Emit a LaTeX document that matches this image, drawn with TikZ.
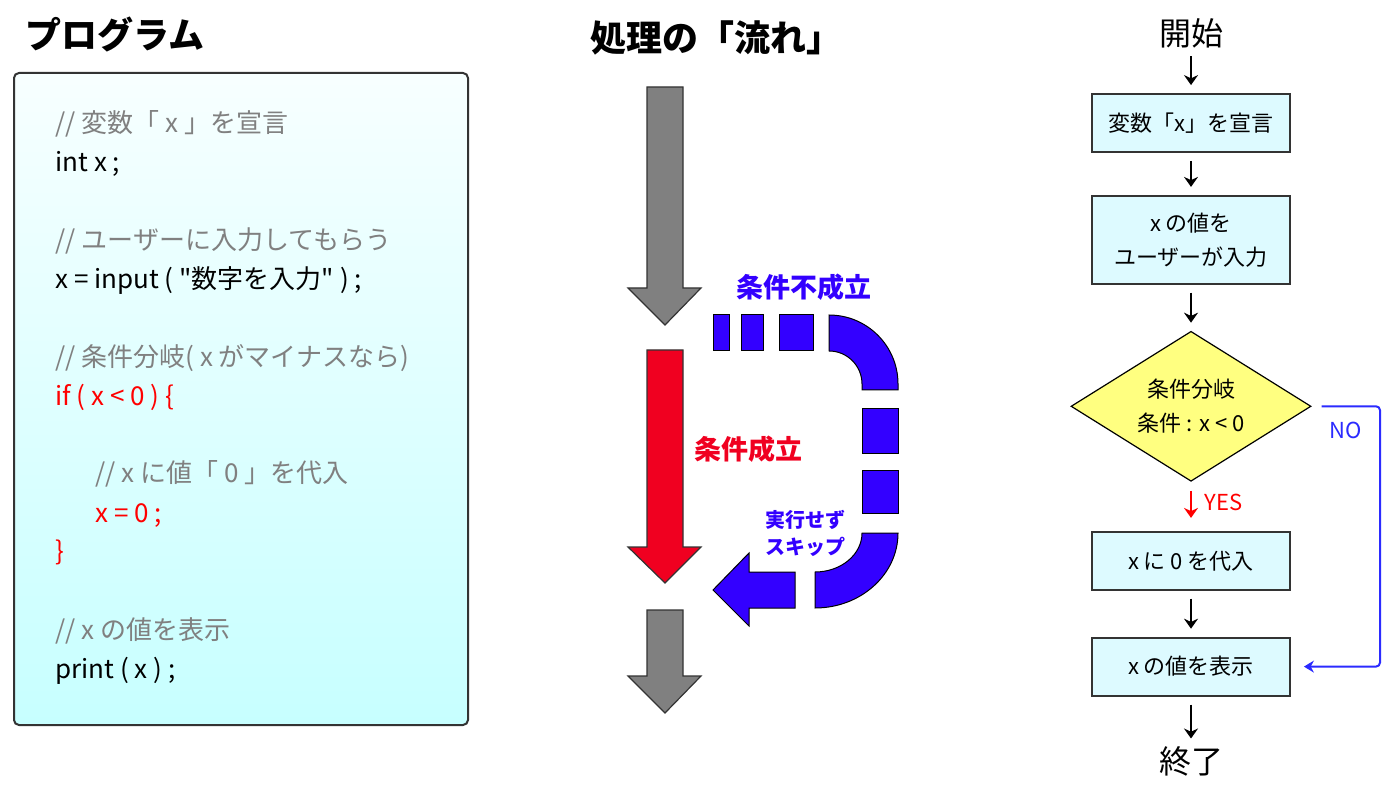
\documentclass[tikz,border=0pt]{standalone}
\usepackage{fontspec}
\setmainfont{Noto Sans CJK JP}[Ligatures=TeXOff]
\usepackage{tikz}
\usetikzlibrary{positioning,shapes.geometric,arrows.meta}
\definecolor{CodeGray}{HTML}{808080}
\definecolor{CodeRed}{HTML}{FF0000}
\definecolor{FlowRed}{HTML}{F00020}
\definecolor{FlowBlue}{HTML}{3300FF}
\definecolor{NoBlue}{HTML}{2B2BFF}
\definecolor{ArrowGray}{HTML}{808080}
\definecolor{BoxCyan}{HTML}{DDFAFF}
\definecolor{CondYellow}{HTML}{FFFF80}
% thick down arrow: colour, top, head base, tip
\newcommand{\fatdown}[4]{%
  \draw[fat, fill=#1] (647,#2) -- (683,#2) -- (683,#3) -- (701,#3) -- (665,#4)
    -- (628,#3) -- (647,#3) -- cycle;}

\begin{document}
\begin{tikzpicture}[x=0.5pt, y=-0.5pt,
                    heading/.style={font=\fontsize{18}{20}\selectfont\bfseries, inner sep=0},
                    cmt/.style={anchor=west, inner sep=0, text height=11.4pt, text depth=1.6pt,
                                font=\fontsize{13}{15}\selectfont, text=CodeGray},
                    src/.style={cmt, text=black},
                    hot/.style={cmt, text=CodeRed},
                    fat/.style={draw=black!80, line width=0.6pt},
                    skipseg/.style={fill=FlowBlue, draw=black, line width=0.5pt},
                    term/.style={font=\fontsize{16}{18}\selectfont, inner sep=0},
                    proc/.style={draw=black!80, line width=0.9pt, fill=BoxCyan, align=center,
                                 minimum width=99pt, minimum height=29pt,
                                 font=\fontsize{11}{17}\selectfont},
                    cond/.style={diamond, draw=black, line width=0.6pt, fill=CondYellow,
                                 minimum width=120pt, minimum height=75pt, inner sep=0,
                                 aspect=1.6, align=center, font=\fontsize{11}{17}\selectfont},
                    flow/.style={-{Stealth[length=5pt,width=7pt]}, line width=1pt,
                                 shorten <=4pt, shorten >=4pt},
                    noline/.style={-{Stealth[length=5pt,width=6pt]}, draw=NoBlue, line width=1pt,
                                   rounded corners=2pt, shorten <=5pt, shorten >=6.5pt}]
\useasboundingbox (0,0) rectangle (1400,790);

% program
\node[heading] (progtitle) at (115,35) {プログラム};
\draw[draw=black!80, line width=1pt, rounded corners=2.5pt, top color=cyan!3, bottom color=cyan!22]
  (14,73) rectangle (468,725);
\node[cmt] (l1) at (55,123) {// 変数「 x 」を宣言};
\node[src] (l2) at (55,162) {int x ;};
\node[cmt] (l3) at (55,240) {// ユーザーに入力してもらう};
\node[src] (l4) at (55,279) {x = input ( "数字を入力" ) ;};
\node[cmt] (l5) at (55,357) {// 条件分岐( x がマイナスなら)};
\node[hot] (l6) at (55,396) {if ( x < 0 ) \{};
\node[cmt] (l7) at (95,473) {// x に値「 0 」を代入};
\node[hot] (l8) at (95,513) {x = 0 ;};
\node[hot] (l9) at (55,551) {\}};
\node[cmt] (l10) at (55,630) {// x の値を表示};
\node[src] (l11) at (55,669) {print ( x ) ;};

% flow
\node[heading] (flowtitle) at (716,38) {処理の「流れ」};
\fatdown{ArrowGray}{87}{288}{325}
\fatdown{FlowRed}{350}{547}{583}
\fatdown{ArrowGray}{610}{676}{713}
\draw[skipseg] (713,315) rectangle (729,351);
\draw[skipseg] (741,315) rectangle (763,351);
\draw[skipseg] (779,315) rectangle (813,351);
\draw[skipseg] (829,315) arc[start angle=-90, end angle=0, radius=69] -- (898,390) -- (862,390)
  -- (862,384) arc[start angle=0, end angle=-90, radius=33] -- cycle;
\draw[skipseg] (862,408) rectangle (898,453);
\draw[skipseg] (862,470) rectangle (898,513);
\draw[skipseg] (862,533) -- (898,533) arc[start angle=0, end angle=90, x radius=83, y radius=75]
  -- (815,572) arc[start angle=90, end angle=0, x radius=47, y radius=39] -- cycle;
\draw[skipseg] (795,572) -- (749,572) -- (749,553) -- (713,590) -- (749,626) -- (749,608)
  -- (795,608) -- cycle;
\node[font=\fontsize{13.5}{15}\selectfont\bfseries, text=FlowBlue] (ng) at (804,287) {条件不成立};
\node[font=\fontsize{13.5}{15}\selectfont\bfseries, text=FlowRed] (ok) at (748,449) {条件成立};
\node[font=\fontsize{10}{13.5}\selectfont\bfseries, text=FlowBlue, align=center] (skiptxt)
  at (805,533) {実行せず\\スキップ};

% chart
\node[proc] (decl) at (1191,123) {変数「x」を宣言};
\node[term, above=22.5pt of decl] (start) {開始};
\node[proc, minimum height=44pt, below=21pt of decl] (input) {x の値を\\ユーザーが入力};
\node[cond, below=23pt of input] (test) {条件分岐\\条件 : x < 0};
\node[proc, below=24.5pt of test] (assign) {x に 0 を代入};
\node[proc, below=23pt of assign] (show) {x の値を表示};
\node[term, below=25pt of show] (stop) {終了};
\coordinate (noturn) at (1380,0);
\draw[flow] (start) -- (decl);
\draw[flow] (decl) -- (input);
\draw[flow] (input) -- (test);
\draw[flow, draw=CodeRed, shorten <=4.5pt, shorten >=6.5pt] (test) --
  node[midway, right, xshift=3pt, yshift=2pt, text=CodeRed, font=\fontsize{11}{13}\selectfont] (yes) {YES} (assign);
\draw[flow] (assign) -- (show);
\draw[flow] (show) -- (stop);
\draw[noline] (test.east) --
  node[below, yshift=-4pt, text=NoBlue, font=\fontsize{11}{13}\selectfont] (no) {NO}
  (test.east -| noturn) |- (show.east);
\end{tikzpicture}
\end{document}
